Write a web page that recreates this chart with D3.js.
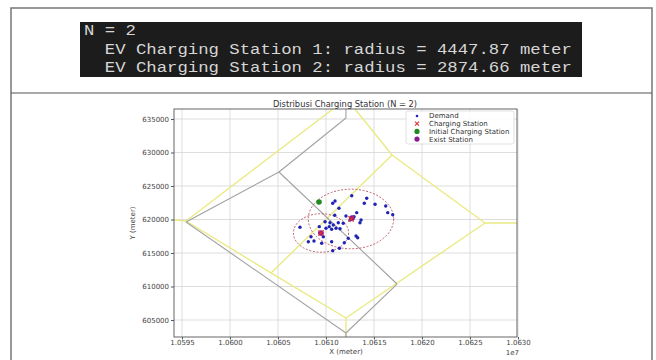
<!DOCTYPE html>
<html><head><meta charset="utf-8">
<script src="https://cdn.jsdelivr.net/npm/d3@7"></script>
<style>
body{margin:0;background:#fff;}
svg{display:block;}
</style></head><body>
<svg id="c" width="656" height="360"></svg>
<script>
// Console output shown above the plot
const consoleLines = [
  "N = 2",
  "EV Charging Station 1: radius = 4447.87 meter",
  "EV Charging Station 2: radius = 2874.66 meter"
];
const consoleIndent = [0, 2, 2];

// Charging stations (meters) and their coverage radii
const stationX = [10612600, 10609480];
const stationY = [620080, 617990];
const radii = [4447.87, 2874.66];

const initialX = [10609270];
const initialY = [622610];

const existX = [10612700, 10609480];
const existY = [620200, 617990];

// Demand points (meters)
const demandX = [10612680, 10614240, 10613990, 10615110, 10616220, 10616430, 10616950, 10610940,
  10610700, 10611350, 10610910, 10612080, 10613200, 10612920, 10613540, 10613650, 10612500,
  10611800, 10611280, 10610760, 10610340, 10610000, 10610590, 10611040, 10611460, 10610420,
  10609900, 10607290, 10609300, 10609380, 10608440, 10608160, 10608750, 10609550, 10610590,
  10611910, 10612320, 10613130, 10613300, 10611390, 10610700, 10609720];
const demandY = [623550, 623170, 622420, 622270, 622020, 621020, 620720, 622760,
  622420, 621670, 620630, 620520, 621020, 620420, 619520, 619930, 619930,
  619430, 619520, 619180, 618930, 618690, 618540, 618690, 618630, 619520,
  619670, 618840, 618930, 618030, 617430, 616690, 616790, 616450, 616690,
  616540, 617190, 617540, 617280, 615700, 615340, 617430];

// Voronoi boundaries of the stations (gray) and of the service region (yellow), as [x1, y1, x2, y2]
const grayEdges = [
  [10612080, 636500, 10612080, 635150],
  [10612080, 635150, 10605100, 627090],
  [10605100, 627090, 10595420, 619630],
  [10595420, 619630, 10612080, 603060],
  [10612080, 603060, 10612080, 602460],
  [10612080, 603060, 10617400, 610370],
  [10605100, 627090, 10617400, 610370]
];
const yellowEdges = [
  [10594167, 619930, 10595420, 619780],
  [10595420, 619780, 10610730, 636490],
  [10595420, 619780, 10604270, 612020],
  [10604270, 612020, 10612080, 605300],
  [10612080, 605300, 10612080, 602460],
  [10612080, 605300, 10626560, 619480],
  [10626560, 619480, 10629900, 619480],
  [10626560, 619480, 10616880, 629630],
  [10616880, 629630, 10613020, 636490],
  [10616880, 629630, 10604270, 612020]
];

const xTicks = [10595000, 10600000, 10605000, 10610000, 10615000, 10620000, 10625000, 10630000];
const yTicks = [605000, 610000, 615000, 620000, 625000, 630000, 635000];

const legendItems = ["Demand", "Charging Station", "Initial Charging Station", "Exist Station"];

const svg = d3.select("#c");

// Page frame
svg.append("rect").attr("x", 11).attr("y", 8).attr("width", 641).attr("height", 360)
  .attr("fill", "none").attr("stroke", "#777").attr("stroke-width", 1.5);
svg.append("line").attr("x1", 11).attr("x2", 652).attr("y1", 93).attr("y2", 93)
  .attr("stroke", "#555").attr("stroke-width", 1.2);

// Console block
const charW = 10.38;
svg.append("rect").attr("x", 80).attr("y", 22).attr("width", 502).attr("height", 55).attr("fill", "#1c1c1c");
svg.append("g").selectAll("text").data(consoleLines).join("text")
  .attr("x", (d, i) => 84 + consoleIndent[i] * charW).attr("y", (d, i) => 35 + i * 18.5)
  .attr("fill", "#d6d6d6")
  .attr("font-family", "'Liberation Mono', 'DejaVu Sans Mono', monospace")
  .attr("font-size", 14.5)
  .attr("textLength", d => d.length * charW)
  .attr("lengthAdjust", "spacingAndGlyphs")
  .text(d => d);

// Plot
const x = d3.scaleLinear().domain([10594167, 10629896]).range([174, 517]);
const y = d3.scaleLinear().domain([602463, 636493]).range([337, 109]);

const font = "'DejaVu Sans', sans-serif";
const plot = svg.append("g");

plot.append("defs").append("clipPath").attr("id", "pc")
  .append("rect").attr("x", 174).attr("y", 109).attr("width", 343).attr("height", 228);

// Grid
plot.append("g").selectAll("line").data(xTicks).join("line")
  .attr("x1", d => x(d)).attr("x2", d => x(d)).attr("y1", 109).attr("y2", 337)
  .attr("stroke", "#d4d4d4").attr("stroke-width", 0.8);
plot.append("g").selectAll("line").data(yTicks).join("line")
  .attr("y1", d => y(d)).attr("y2", d => y(d)).attr("x1", 174).attr("x2", 517)
  .attr("stroke", "#d4d4d4").attr("stroke-width", 0.8);

const body = plot.append("g").attr("clip-path", "url(#pc)");

body.append("g").selectAll("line").data(yellowEdges).join("line")
  .attr("x1", d => x(d[0])).attr("y1", d => y(d[1])).attr("x2", d => x(d[2])).attr("y2", d => y(d[3]))
  .attr("stroke", "#eaea84").attr("stroke-width", 1.4);
body.append("g").selectAll("line").data(grayEdges).join("line")
  .attr("x1", d => x(d[0])).attr("y1", d => y(d[1])).attr("x2", d => x(d[2])).attr("y2", d => y(d[3]))
  .attr("stroke", "#a2a2a2").attr("stroke-width", 1.1);

// Coverage circles
body.append("g").selectAll("ellipse").data(radii).join("ellipse")
  .attr("cx", (d, i) => x(stationX[i])).attr("cy", (d, i) => y(stationY[i]))
  .attr("rx", (d, i) => x(stationX[i] + d) - x(stationX[i]))
  .attr("ry", (d, i) => y(stationY[i]) - y(stationY[i] + d))
  .attr("fill", "none").attr("stroke", "#b5505c").attr("stroke-width", 0.9)
  .attr("stroke-dasharray", "2,1.6");

// Demand
body.append("g").selectAll("circle").data(demandX).join("circle")
  .attr("cx", d => x(d)).attr("cy", (d, i) => y(demandY[i])).attr("r", 1.7)
  .attr("fill", "#2222b4");

// Initial station
body.append("g").selectAll("circle").data(initialX).join("circle")
  .attr("cx", d => x(d)).attr("cy", (d, i) => y(initialY[i])).attr("r", 2.8).attr("fill", "#1f8a1f");

// Existing station
body.append("g").selectAll("circle").data(existX).join("circle")
  .attr("cx", d => x(d)).attr("cy", (d, i) => y(existY[i])).attr("r", 2.8).attr("fill", "#8a1a8a");

// Charging stations
body.append("g").selectAll("path").data(stationX).join("path")
  .attr("d", (d, i) => {
    const cx = x(d), cy = y(stationY[i]), s = 2.6;
    return `M${cx - s},${cy - s}L${cx + s},${cy + s}M${cx - s},${cy + s}L${cx + s},${cy - s}`;
  })
  .attr("stroke", "#e03030").attr("stroke-width", 1.2).attr("fill", "none");

// Frame
plot.append("rect").attr("x", 174).attr("y", 109).attr("width", 343).attr("height", 228)
  .attr("fill", "none").attr("stroke", "#555").attr("stroke-width", 0.9);

// Axes
const xAxis = d3.axisBottom(x).tickValues(xTicks).tickSize(2.5).tickPadding(1)
  .tickFormat(d => (d / 1e7).toFixed(4));
const gx = plot.append("g").attr("transform", "translate(0,337)").call(xAxis);
const yAxis = d3.axisLeft(y).tickValues(yTicks).tickSize(3).tickPadding(2).tickFormat(d3.format("d"));
const gy = plot.append("g").attr("transform", "translate(174,0)").call(yAxis);
[gx, gy].forEach(g => {
  g.select(".domain").remove();
  g.selectAll("line").attr("stroke", "#555");
  g.selectAll("text").attr("fill", "#444").attr("font-family", font).attr("font-size", 7);
});

plot.append("text").attr("x", 345).attr("y", 107).attr("text-anchor", "middle")
  .attr("font-family", font).attr("font-size", 8.3).attr("fill", "#333")
  .text("Distribusi Charging Station (N = 2)");
plot.append("text").attr("x", 346).attr("y", 353.5).attr("text-anchor", "middle")
  .attr("font-family", font).attr("font-size", 7).attr("fill", "#444").text("X (meter)");
plot.append("text").attr("x", 519).attr("y", 354.5).attr("text-anchor", "end")
  .attr("font-family", font).attr("font-size", 7).attr("fill", "#444").text("1e7");
plot.append("text").attr("transform", "translate(135,223) rotate(-90)").attr("text-anchor", "middle")
  .attr("font-family", font).attr("font-size", 7).attr("fill", "#444").text("Y (meter)");

// Legend
const lg = plot.append("g");
lg.append("rect").attr("x", 406).attr("y", 111).attr("width", 108).attr("height", 33).attr("rx", 2)
  .attr("fill", "#fff").attr("fill-opacity", 0.85).attr("stroke", "#d8d8d8").attr("stroke-width", 0.8);
const rows = lg.selectAll("g").data(legendItems).join("g")
  .attr("transform", (d, i) => `translate(417,${116 + i * 7.7})`);
rows.append("text").attr("x", 12).attr("y", 2.4).attr("font-family", font).attr("font-size", 7)
  .attr("fill", "#333").text(d => d);
rows.filter((d, i) => i === 0).append("circle").attr("r", 1.3).attr("fill", "#2222b4");
rows.filter((d, i) => i === 1).append("path").attr("d", "M-2,-2L2,2M-2,2L2,-2")
  .attr("stroke", "#e03030").attr("stroke-width", 1.1);
rows.filter((d, i) => i === 2).append("circle").attr("r", 2.6).attr("fill", "#1f8a1f");
rows.filter((d, i) => i === 3).append("circle").attr("r", 2.6).attr("fill", "#8a1a8a");
</script>
</body></html>
